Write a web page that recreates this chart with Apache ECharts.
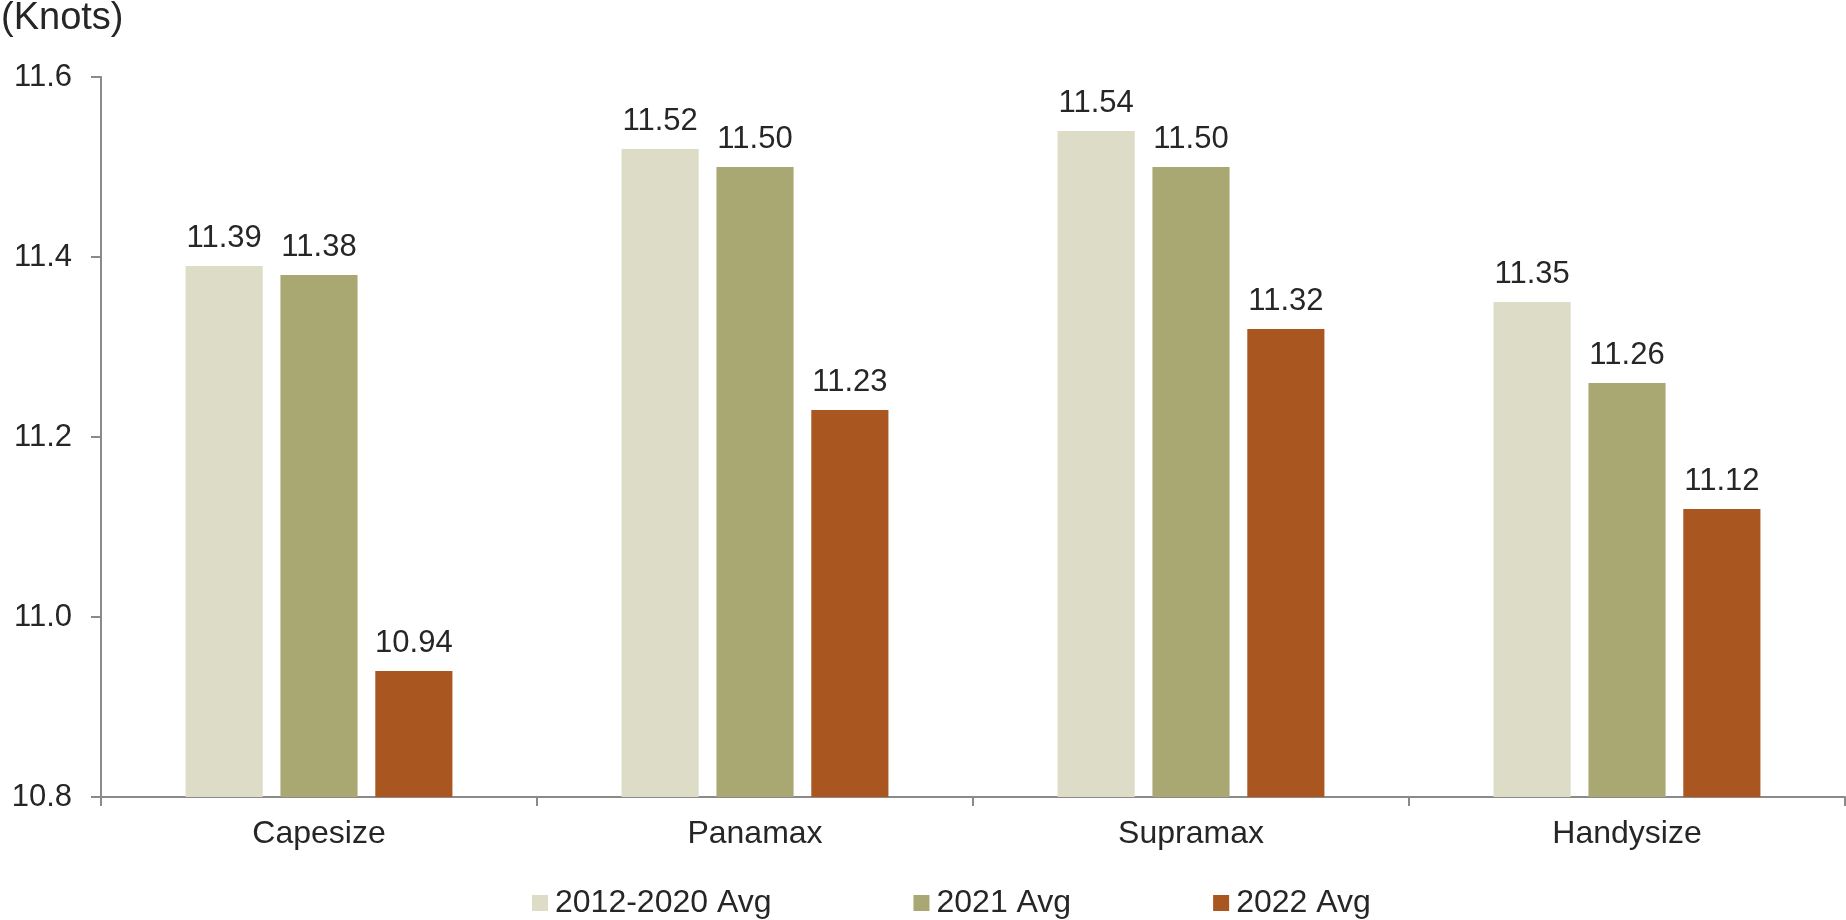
<!DOCTYPE html>
<html>
<head>
<meta charset="utf-8">
<script src="https://cdn.jsdelivr.net/npm/echarts@6/dist/echarts.min.js"></script>
<style>html,body{margin:0;padding:0;background:#fff;}#c{width:1846px;height:920px;}</style>
</head>
<body>
<div id="c"></div>
<script>
const categories = ['Capesize', 'Panamax', 'Supramax', 'Handysize'];
const seriesNames = ['2012-2020 Avg', '2021 Avg', '2022 Avg'];
const avg2012_2020 = [11.39, 11.52, 11.54, 11.35];
const avg2021 = [11.38, 11.50, 11.50, 11.26];
const avg2022 = [10.94, 11.23, 11.32, 11.12];
const yTicks = [10.8, 11.0, 11.2, 11.4, 11.6];
const unitLabel = '(Knots)';

const colors = ['#DDDCC7', '#A9A872', '#A95620'];
const font = 'Liberation Sans, Arial, sans-serif';
const textColor = '#262626';
const axisColor = '#8a8a8a';

const chart = echarts.init(document.getElementById('c'), null, {renderer: 'canvas'});
const values = [avg2012_2020, avg2021, avg2022];
chart.setOption({
  animation: false,
  textStyle: {fontFamily: font},
  title: {
    text: unitLabel, left: 1, top: 0, padding: 0,
    textStyle: {fontSize: 38, fontWeight: 'normal', color: textColor, fontFamily: font}
  },
  grid: {left: 101, right: 1, top: 77, bottom: 123, containLabel: false},
  legend: {
    data: seriesNames, bottom: -4, left: 527,
    itemWidth: 16, itemHeight: 16, itemGap: 142,
    icon: 'rect',
    textStyle: {fontSize: 32, color: textColor, fontFamily: font, padding: [0, 0, 0, 2]}
  },
  xAxis: {
    type: 'category', data: categories,
    axisLine: {lineStyle: {color: axisColor, width: 2}},
    axisTick: {show: true, length: 9, lineStyle: {color: axisColor, width: 2}},
    axisLabel: {fontSize: 32, color: textColor, margin: 21, fontFamily: font}
  },
  yAxis: {
    type: 'value', min: yTicks[0], max: yTicks[yTicks.length - 1], interval: 0.2,
    splitLine: {show: false},
    axisLine: {show: true, lineStyle: {color: axisColor, width: 2}},
    axisTick: {show: true, length: 10, lineStyle: {color: axisColor, width: 2}},
    axisLabel: {fontSize: 31, color: textColor, margin: 29, fontFamily: font,
      formatter: v => v.toFixed(1)}
  },
  series: seriesNames.map((name, i) => ({
    name: name, type: 'bar', data: values[i],
    itemStyle: {color: colors[i]},
    barGap: '23%', barCategoryGap: '38.8%',
    label: {show: true, position: 'top', distance: 12, fontSize: 31, color: textColor,
      fontFamily: font, formatter: p => p.value.toFixed(2)}
  }))
});
</script>
</body>
</html>
